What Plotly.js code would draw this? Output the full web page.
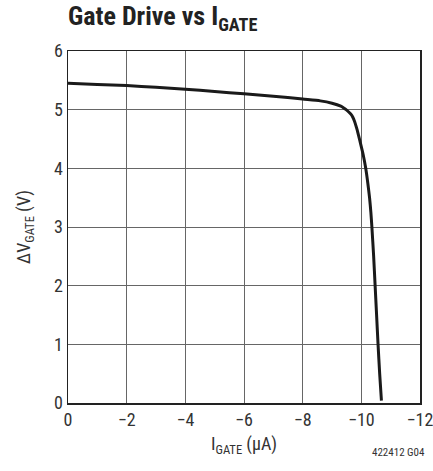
<!DOCTYPE html>
<html>
<head>
<meta charset="utf-8">
<script src="https://cdn.plot.ly/plotly-3.0.1.min.js"></script>
<style>html,body{margin:0;padding:0;background:#fff;}#chart{width:433px;height:471px;}</style>
</head>
<body>
<div id="chart"></div>
<script>
var iGate = [0, -1, -2, -3, -4, -5, -6, -7, -8, -8.6, -9.0, -9.3, -9.4, -9.48, -9.57, -9.65, -9.71, -9.77, -9.82, -9.86, -9.905, -9.945, -10.06, -10.15, -10.22, -10.28, -10.325, -10.36, -10.42, -10.47, -10.52, -10.57, -10.625, -10.685];
var dVGate = [5.45, 5.43, 5.41, 5.38, 5.35, 5.31, 5.27, 5.23, 5.18, 5.15, 5.11, 5.06, 5.03, 5.0, 4.96, 4.92, 4.87, 4.80, 4.72, 4.65, 4.56, 4.48, 4.24, 4.0, 3.75, 3.5, 3.25, 3.0, 2.5, 2.0, 1.5, 1.0, 0.5, 0.04];
var xTicks = [0, -2, -4, -6, -8, -10, -12];
var xTickText = ['0', '\u22122', '\u22124', '\u22126', '\u22128', '\u221210', '\u221212'];
var yTicks = [0, 1, 2, 3, 4, 5, 6];

var font = '"Liberation Sans Narrow", "Roboto Condensed", "Liberation Sans", Arial, sans-serif';

Plotly.newPlot('chart', [{
  x: iGate, y: dVGate, type: 'scatter', mode: 'lines',
  line: {color: '#1a1a1a', width: 3, shape: 'spline', smoothing: 0.6},
  hoverinfo: 'none'
}], {
  width: 433, height: 471,
  margin: {l: 68, r: 13, t: 51, b: 68},
  paper_bgcolor: '#fff', plot_bgcolor: '#fff',
  showlegend: false,
  title: {text: '<b>Gate Drive vs I<sub>GATE</sub></b>', x: 0, xref: 'paper', xanchor: 'left', yref: 'container', y: 0.985, yanchor: 'top',
          font: {family: font, size: 26, color: '#222'}},
  xaxis: {range: [0, -12], tickvals: xTicks, ticktext: xTickText, showgrid: true, gridcolor: '#666', gridwidth: 1,
          zeroline: false, showline: true, linecolor: '#222', linewidth: 1.5, mirror: true, ticks: '',
          ticklabeloverflow: 'allow', automargin: false,
          tickfont: {family: font, size: 18, color: '#333'},
          title: {text: 'I<sub>GATE</sub> (\u03bcA)', font: {family: font, size: 18, color: '#333'}, standoff: 8}},
  yaxis: {range: [0, 6], tickvals: yTicks, showgrid: true, gridcolor: '#666', gridwidth: 1,
          zeroline: false, showline: true, linecolor: '#222', linewidth: 1.5, mirror: true, ticks: '',
          ticklabeloverflow: 'allow', automargin: false,
          tickfont: {family: font, size: 18, color: '#333'},
          title: {text: '\u0394V<sub>GATE</sub> (V)', font: {family: font, size: 18, color: '#333'}, standoff: 18}},
  annotations: [{text: '422412 G04', xref: 'paper', yref: 'paper', x: 1.02, y: -0.14, xanchor: 'right', yanchor: 'middle',
                 showarrow: false, font: {family: font, size: 11, color: '#333'}}]
}, {displayModeBar: false, staticPlot: true});
</script>
</body>
</html>
